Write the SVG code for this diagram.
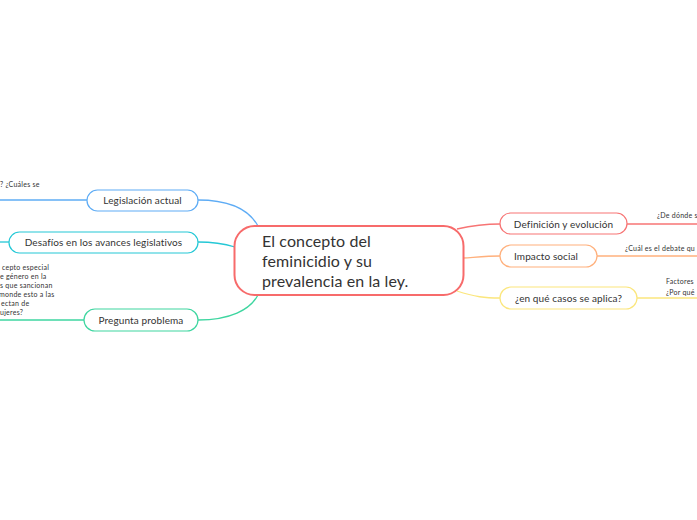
<svg xmlns="http://www.w3.org/2000/svg" width="697" height="520" viewBox="0 0 697 520">
<style>
.bg{fill:#ffffff}
.node{fill:#ffffff;stroke-width:1.2}
.lbl{font-family:Lato,"Noto Sans",sans-serif;font-size:10px;fill:#333333;letter-spacing:0.1px}
.big{font-family:Lato,"Noto Sans",sans-serif;font-size:16px;fill:#333333;letter-spacing:0.1px}
.sm{font-family:Lato,"Noto Sans",sans-serif;font-size:7px;fill:#333333;letter-spacing:0.25px}
.c{fill:none;stroke-width:1.3}
</style>
<rect class="bg" x="0" y="0" width="697" height="520"/>
<g id="connectors">
<path class="c" stroke="#5eacf5" d="M198,200 C228,200 248,208 258,226"/>
<path class="c" stroke="#5eacf5" d="M87,200 L0,200"/>
<path class="c" stroke="#25c8d6" d="M198,242 C215,242 225,244 235,247"/>
<path class="c" stroke="#25c8d6" d="M9,242 L0,242"/>
<path class="c" stroke="#3ed6a0" d="M198,320 C230,320 250,310 258,295"/>
<path class="c" stroke="#3ed6a0" d="M84,320 L0,320"/>
<path class="c" stroke="#f77474" d="M457,229 C475,225 485,224 500,224"/>
<path class="c" stroke="#f77474" d="M627,224 L697,224"/>
<path class="c" stroke="#ffb07c" d="M463,258 C478,257 488,256 500,256"/>
<path class="c" stroke="#ffb07c" d="M597,256 L697,256"/>
<path class="c" stroke="#fbe67c" d="M457,291 C475,297 485,298 500,298"/>
<path class="c" stroke="#fbe67c" d="M637,298 L697,298"/>
</g>
<g id="center">
<rect x="234.5" y="226" width="229" height="69" rx="20" fill="#ffffff" stroke="#f76b6b" stroke-width="2"/>
<text class="big" x="262" y="247">El concepto del</text>
<text class="big" x="262" y="267">feminicidio y su</text>
<text class="big" x="262" y="287">prevalencia en la ley.</text>
</g>
<g id="n-legislacion">
<rect class="node" stroke="#5eacf5" x="87" y="190" width="111" height="21" rx="10.5"/>
<text class="lbl" x="142.5" y="204" text-anchor="middle">Legislación actual</text>
</g>
<g id="n-legislacion-note">
<text class="sm" x="0" y="187">? ¿Cuáles se</text>
</g>
<g id="n-desafios">
<rect class="node" stroke="#25c8d6" x="9" y="232" width="189" height="21" rx="10.5"/>
<text class="lbl" x="103.5" y="246" text-anchor="middle">Desafíos en los avances legislativos</text>
</g>
<g id="n-pregunta">
<rect class="node" stroke="#3ed6a0" x="84" y="309" width="114" height="22" rx="11"/>
<text class="lbl" x="141" y="324" text-anchor="middle">Pregunta problema</text>
</g>
<g id="n-pregunta-note">
<text class="sm" x="2" y="270">cepto especial</text>
<text class="sm" x="0" y="279">e género en la</text>
<text class="sm" x="0" y="288">s que sancionan</text>
<text class="sm" x="-1" y="297">monde esto a las</text>
<text class="sm" x="1" y="306">ectan de</text>
<text class="sm" x="0" y="315">ujeres?</text>
</g>
<g id="n-definicion">
<rect class="node" stroke="#f77474" x="500" y="213" width="127" height="21" rx="10.5"/>
<text class="lbl" x="563.5" y="227.5" text-anchor="middle">Definición y evolución</text>
</g>
<g id="n-definicion-note">
<text class="sm" x="657" y="218">¿De dónde s</text>
</g>
<g id="n-impacto">
<rect class="node" stroke="#ffb07c" x="500" y="245" width="97" height="22" rx="11"/>
<text class="lbl" x="514" y="260">Impacto social</text>
</g>
<g id="n-impacto-note">
<text class="sm" x="625" y="251">¿Cuál es el debate qu</text>
</g>
<g id="n-casos">
<rect class="node" stroke="#fbe67c" x="500" y="287" width="137" height="22" rx="11"/>
<text class="lbl" x="568.5" y="302" text-anchor="middle">¿en qué casos se aplica?</text>
</g>
<g id="n-casos-note">
<text class="sm" x="666" y="284">Factores</text>
<text class="sm" x="666" y="295">¿Por qué</text>
</g>
</svg>
